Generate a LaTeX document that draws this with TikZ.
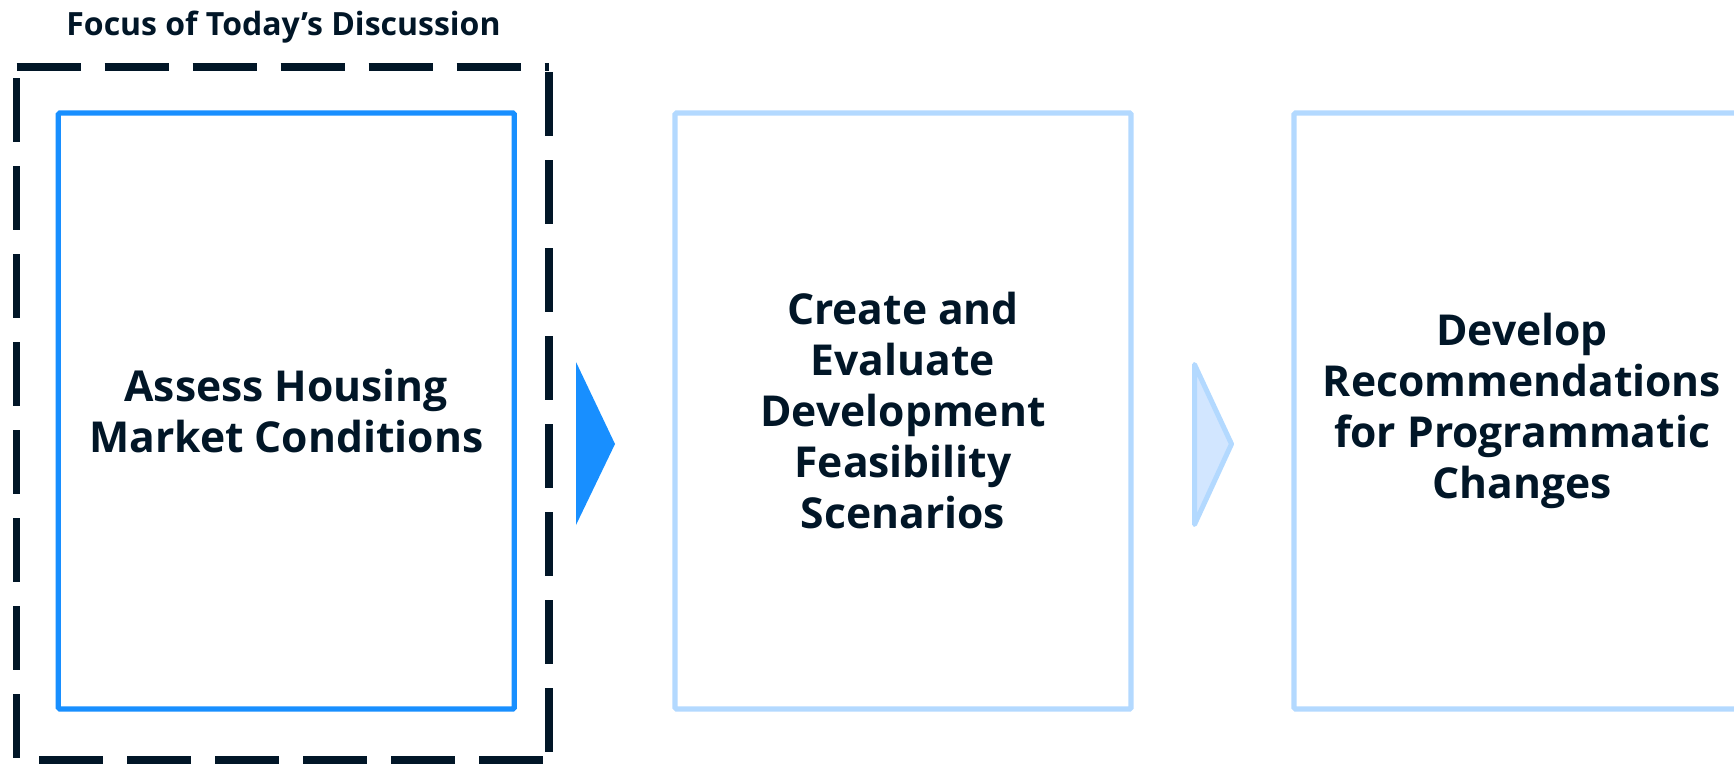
\documentclass[tikz,border=0pt]{standalone}
\usepackage{fontspec}
\setmainfont{Open Sans}
\usepackage{tikz}
\usetikzlibrary{calc}
\definecolor{navy}{RGB}{1,22,39}
\definecolor{focusblue}{RGB}{24,143,255}
\definecolor{paleblue}{RGB}{179,217,255}
\definecolor{paleshade}{RGB}{210,230,255}
\begin{document}
\begin{tikzpicture}[x=1pt,y=-1pt,
    stepbox/.style={draw=paleblue,line width=5.3pt,rounded corners=1.5pt,
        minimum width=456pt,minimum height=596pt,inner sep=0pt,
        text=navy,font=\fontsize{42.6}{51}\selectfont\bfseries,align=center},
    nextarrow/.style={draw=paleblue,fill=paleshade,line width=5pt,line join=round}]
    \useasboundingbox (0,0) rectangle (1734,763);

    % focus frame
    \node[navy,anchor=base,font=\fontsize{32}{38}\selectfont\bfseries] (focus) at (283.5,35.5) {Focus of Today’s Discussion};
    \draw[navy,line width=7.7pt,dash pattern=on 64pt off 24pt]
        (16.7,67) -- (549,67)
        (16.5,78) -- (16.5,760)
        (39,760) -- (549,760)
        (549,72) -- (549,760);

    % steps
    \node[stepbox,draw=focusblue] (assess) at (286.3,411) {Assess Housing\\Market Conditions};
    \node[stepbox] (create) at (903,411) {Create and\\Evaluate\\Development\\Feasibility\\Scenarios};
    \node[stepbox] (develop) at (1522,411) {Develop\\Recommendations\\for Programmatic\\Changes};

    % arrows
    \fill[focusblue] (576,362) -- (615,444) -- (576,525) -- cycle;
    \draw[nextarrow] (1194.5,364.5) -- (1231.5,444) -- (1194.5,524.5) -- cycle;
\end{tikzpicture}
\end{document}
